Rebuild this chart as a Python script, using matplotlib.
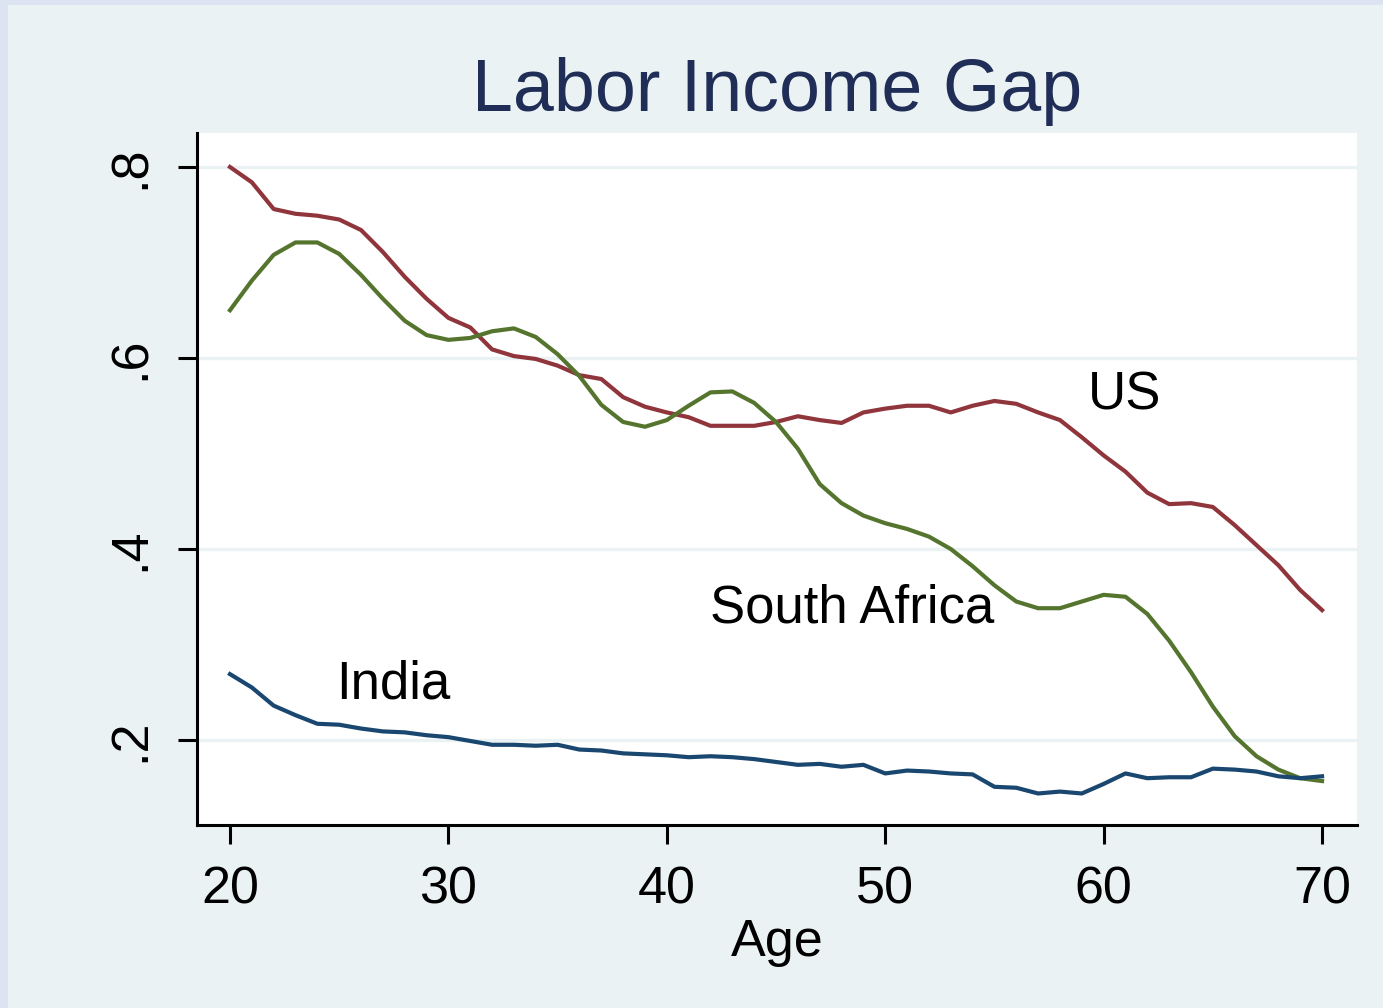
import matplotlib.pyplot as plt
from matplotlib.patches import Rectangle

# Ages and labor income gap by country
age = list(range(20, 71))

us_gap = [0.800, 0.784, 0.756, 0.751, 0.749, 0.745, 0.734, 0.711, 0.685, 0.662,
          0.642, 0.632, 0.609, 0.602, 0.599, 0.592, 0.582, 0.578, 0.559, 0.549,
          0.543, 0.538, 0.529, 0.529, 0.529, 0.533, 0.539, 0.535, 0.532, 0.543,
          0.547, 0.550, 0.550, 0.543, 0.550, 0.555, 0.552, 0.543, 0.535, 0.517,
          0.498, 0.481, 0.459, 0.447, 0.448, 0.444, 0.425, 0.404, 0.383, 0.357,
          0.336]

sa_gap = [0.650, 0.681, 0.708, 0.721, 0.721, 0.709, 0.687, 0.662, 0.639, 0.624,
          0.619, 0.621, 0.628, 0.631, 0.622, 0.604, 0.581, 0.551, 0.533, 0.528,
          0.535, 0.550, 0.564, 0.565, 0.553, 0.533, 0.505, 0.468, 0.448, 0.435,
          0.427, 0.421, 0.413, 0.400, 0.382, 0.362, 0.345, 0.338, 0.338, 0.345,
          0.352, 0.350, 0.332, 0.304, 0.271, 0.235, 0.204, 0.183, 0.169, 0.160,
          0.157]

india_gap = [0.269, 0.255, 0.236, 0.226, 0.217, 0.216, 0.212, 0.209, 0.208, 0.205,
             0.203, 0.199, 0.195, 0.195, 0.194, 0.195, 0.190, 0.189, 0.186, 0.185,
             0.184, 0.182, 0.183, 0.182, 0.180, 0.177, 0.174, 0.175, 0.172, 0.174,
             0.165, 0.168, 0.167, 0.165, 0.164, 0.151, 0.150, 0.144, 0.146, 0.144,
             0.154, 0.165, 0.160, 0.161, 0.161, 0.170, 0.169, 0.167, 0.162, 0.160,
             0.162]

x_ticks = [20, 30, 40, 50, 60, 70]
y_ticks = [0.2, 0.4, 0.6, 0.8]
y_tick_labels = [".2", ".4", ".6", ".8"]

# Stata s2color palette
navy = "#1A476F"
maroon = "#90353B"
green = "#55752F"
region_bg = "#EAF2F3"

plt.rcParams['font.family'] = ['Liberation Sans', 'DejaVu Sans']

fig = plt.figure(figsize=(13.83, 10.08), dpi=100, facecolor="#DCE3F1")
# graph region (light blue panel)
fig.patches.append(Rectangle((8 / 1383, 0), 1, 1 - 5 / 1008, transform=fig.transFigure,
                             facecolor=region_bg, edgecolor="none", zorder=-5))

ax = fig.add_axes([197 / 1383, 1 - 825 / 1008, 1160 / 1383, 692 / 1008])
ax.set_zorder(2)
ax.set_facecolor("white")

ax.plot(age, us_gap, color=maroon, lw=3.0, zorder=3)
ax.plot(age, sa_gap, color=green, lw=3.0, zorder=3)
ax.plot(age, india_gap, color=navy, lw=3.0, zorder=3)

ax.text(59.3, 0.561, "US", fontsize=38, va="center", ha="left")
ax.text(42.0, 0.338, "South Africa", fontsize=38, va="center", ha="left")
ax.text(24.85, 0.258, "India", fontsize=38, va="center", ha="left")

ax.set_xlim(18.49, 71.6)
ax.set_ylim(0.111, 0.8356)

ax.set_xticks(x_ticks)
ax.set_yticks(y_ticks)
ax.set_yticklabels(y_tick_labels, rotation=90, va="center")
ax.tick_params(axis="both", labelsize=37.5, length=14, width=2.2, color="black")
ax.tick_params(axis="x", pad=15)
ax.tick_params(axis="y", pad=16)

ax.grid(axis="y", color=region_bg, lw=2.4, zorder=1)
ax.set_axisbelow(True)

for side in ["top", "right"]:
    ax.spines[side].set_visible(False)
for side in ["left", "bottom"]:
    ax.spines[side].set_linewidth(2.2)
    ax.spines[side].set_color("black")

ax.set_xlabel("Age", fontsize=37.5, labelpad=3)
ax.set_title("Labor Income Gap", fontsize=53, color="#1F2D57", pad=16)

fig.savefig("out.png", dpi=100, facecolor=fig.get_facecolor())
